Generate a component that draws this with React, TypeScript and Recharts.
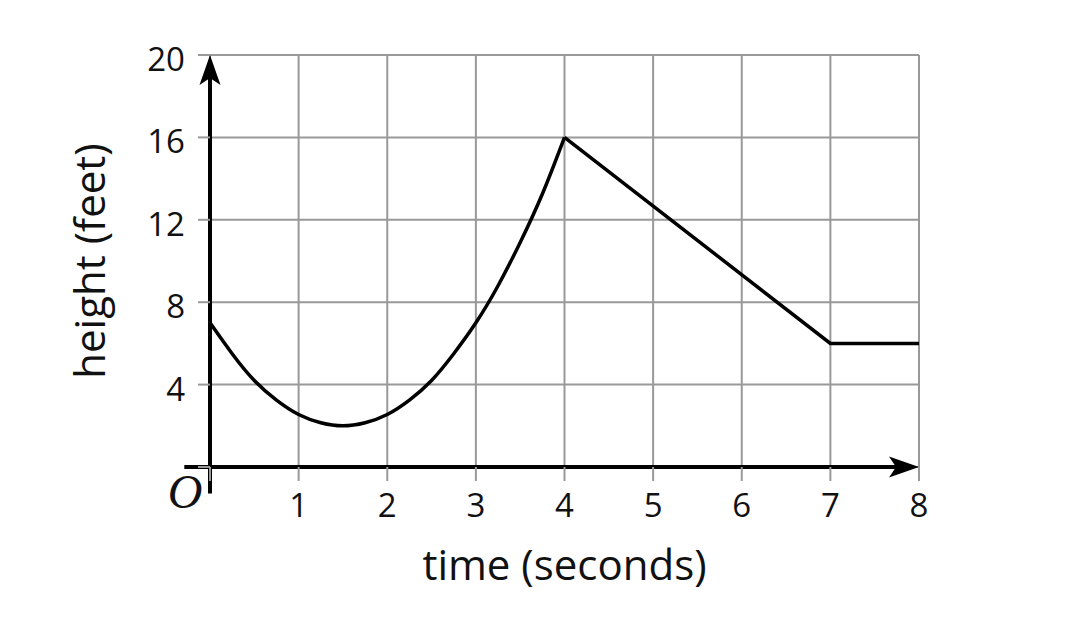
import { LineChart, Line, XAxis, YAxis, CartesianGrid, ReferenceLine } from "recharts";

// time (s)
const times = [0, 0.25, 0.5, 0.75, 1, 1.25, 1.5, 1.75, 2, 2.25, 2.5, 2.75, 3, 3.25, 3.5, 3.75, 4, 7, 8];
// curved part (0 to 4 s)
const curveHeights = [7, 5.5, 4.2, 3.25, 2.55, 2.15, 2, 2.15, 2.55, 3.25, 4.2, 5.5, 7, 8.8, 10.9, 13.25, 16, null, null];
// straight part (4 to 8 s)
const lineHeights = [null, null, null, null, null, null, null, null, null, null, null, null, null, null, null, null, 16, 6, 6];

const xTicks = [0, 1, 2, 3, 4, 5, 6, 7, 8];
const yTicks = [0, 4, 8, 12, 16, 20];

const data = times.map((t, i) => ({ t, curve: curveHeights[i], seg: lineHeights[i] }));

const FONT = "'Open Sans', 'Noto Sans', sans-serif";

function XTick(props: any) {
  const { x, y, payload } = props;
  if (payload.value === 0) {
    return (
      <text x={x - 25} y={y + 25} textAnchor="middle" fontFamily="'Liberation Serif', serif" fontStyle="italic" fontSize={48} fill="#111">
        O
      </text>
    );
  }
  return (
    <text x={x} y={y + 34} textAnchor="middle" fontFamily={FONT} fontSize={33} fill="#111">
      {payload.value}
    </text>
  );
}

function YTick(props: any) {
  const { x, y, payload } = props;
  if (payload.value === 0) return null;
  return (
    <text x={x - 11} y={y + 16} textAnchor="end" fontFamily={FONT} fontSize={33} fill="#111">
      {payload.value}
    </text>
  );
}

function ArrowAxis(props: any) {
  const { x1, y1, x2, y2 } = props;
  const vertical = Math.abs(x1 - x2) < 1;
  const len = 30;
  const half = 10.5;
  const notch = 7;
  let path = "";
  let line;
  if (vertical) {
    const tipY = Math.min(y1, y2);
    const endY = Math.max(y1, y2);
    const x = x1;
    path = `M${x},${tipY} L${x + half},${tipY + len} L${x},${tipY + len - notch} L${x - half},${tipY + len} Z`;
    line = <line x1={x} y1={endY} x2={x} y2={tipY + len - notch} stroke="#000" strokeWidth={4} />;
  } else {
    const tipX = Math.max(x1, x2);
    const startX = Math.min(x1, x2);
    const y = y1;
    path = `M${tipX},${y} L${tipX - len},${y - half} L${tipX - len + notch},${y} L${tipX - len},${y + half} Z`;
    line = <line x1={startX} y1={y} x2={tipX - len + notch} y2={y} stroke="#000" strokeWidth={4} />;
  }
  return (
    <g>
      {line}
      <path d={path} fill="#000" />
    </g>
  );
}

export default function App() {
  return (
    <LineChart
      width={1074}
      height={612}
      data={data}
      margin={{ top: 47, left: 142, right: 163, bottom: 123 }}
      style={{ background: "#fff" }}
    >
      <CartesianGrid stroke="#999" strokeWidth={2} />
      <XAxis
        type="number"
        dataKey="t"
        domain={[0, 8]}
        ticks={xTicks}
        interval={0}
        axisLine={false}
        tickSize={14}
        tickLine={{ stroke: "#999", strokeWidth: 2 }}
        tick={<XTick />}
        height={30}
        label={{
          content: (p: any) => (
            <text
              x={p.viewBox.x + p.viewBox.width / 2}
              y={p.viewBox.y + 113}
              textAnchor="middle"
              fontFamily={FONT}
              fontSize={42}
              fill="#111"
            >
              time (seconds)
            </text>
          ),
        }}
      />
      <YAxis
        type="number"
        domain={[0, 20]}
        ticks={yTicks}
        interval={0}
        axisLine={false}
        tickSize={12}
        tickLine={{ stroke: "#999", strokeWidth: 2 }}
        tick={<YTick />}
        width={60}
        label={{
          content: (p: any) => {
            const cx = p.viewBox.x - 45;
            const cy = p.viewBox.y + p.viewBox.height / 2;
            return (
              <text
                x={cx}
                y={cy}
                transform={`rotate(-90, ${cx}, ${cy})`}
                textAnchor="middle"
                fontFamily={FONT}
                fontSize={42}
                fill="#111"
              >
                height (feet)
              </text>
            );
          },
        }}
      />
      <ReferenceLine
        segment={[{ x: -0.29, y: 0 }, { x: 8, y: 0 }]}
        ifOverflow="visible"
        shape={<ArrowAxis />}
      />
      <ReferenceLine
        segment={[{ x: 0, y: -1.29 }, { x: 0, y: 20 }]}
        ifOverflow="visible"
        shape={<ArrowAxis />}
      />
      <Line
        dataKey="curve"
        type="natural"
        stroke="#000"
        strokeWidth={3.5}
        dot={false}
        activeDot={false}
        connectNulls={false}
        isAnimationActive={false}
      />
      <Line
        dataKey="seg"
        type="linear"
        stroke="#000"
        strokeWidth={3.5}
        dot={false}
        activeDot={false}
        connectNulls={false}
        isAnimationActive={false}
      />
    </LineChart>
  );
}
